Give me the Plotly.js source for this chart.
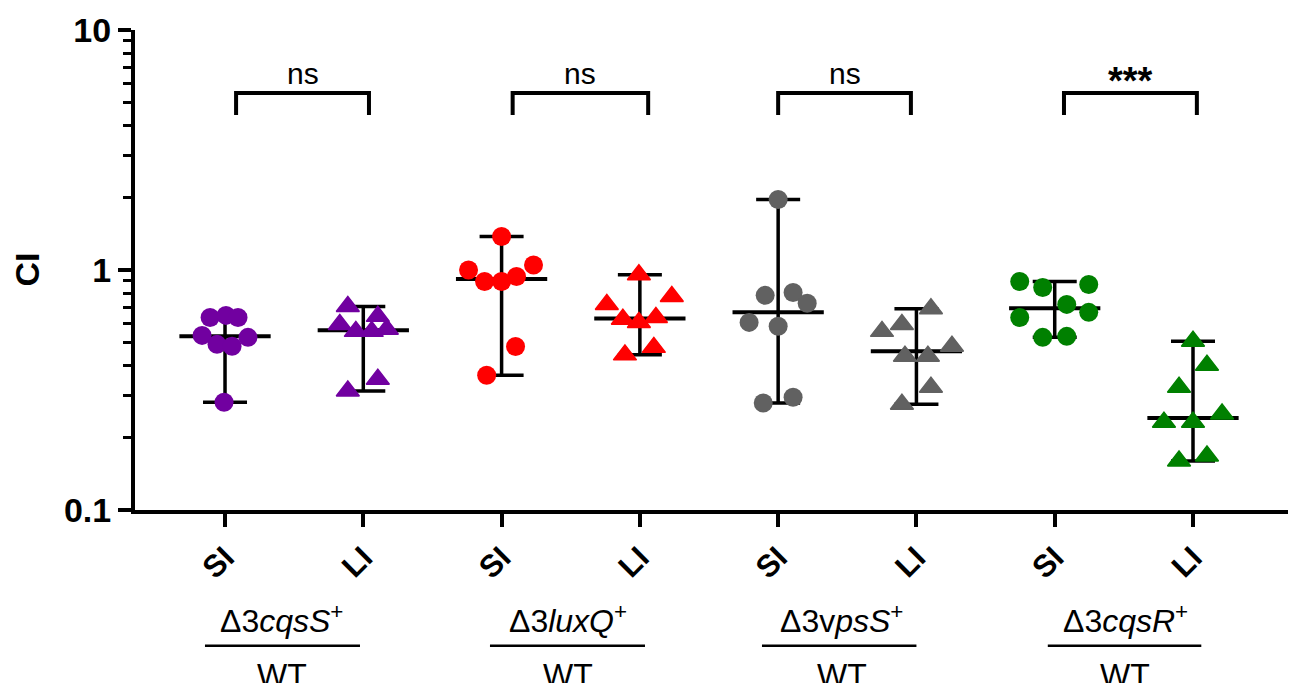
<!DOCTYPE html>
<html>
<head>
<meta charset="utf-8">
<script src="https://cdn.plot.ly/plotly-3.0.1.min.js"></script>
<style>html,body{margin:0;padding:0;background:#fff;}#chart{width:1293px;height:683px;}</style>
</head>
<body>
<div id="chart"></div>
<script>
// ---- data ----
const categories = ['SI', 'LI', 'SI', 'LI', 'SI', 'LI', 'SI', 'LI'];
const groupLabels = ['Δ3<i>cqsS</i><sup>+</sup>', 'Δ3<i>luxQ</i><sup>+</sup>', 'Δ3v<i>psS</i><sup>+</sup>', 'Δ3<i>cqsR</i><sup>+</sup>'];
const groupDenominator = ['WT', 'WT', 'WT', 'WT'];
const significance = ['ns', 'ns', 'ns', '***'];

const cqsS_SI = [0.634, 0.647, 0.634, 0.534, 0.524, 0.49, 0.481, 0.281];
const cqsS_SI_dx = [-0.108, 0.007, 0.094, -0.166, 0.166, -0.058, 0.051, -0.007];
const cqsS_LI = [0.705, 0.593, 0.555, 0.555, 0.641, 0.566, 0.351, 0.313];
const cqsS_LI_dx = [-0.112, -0.170, -0.054, 0.061, 0.105, 0.170, 0.105, -0.112];
const luxQ_SI = [1.38, 1.0, 1.05, 0.896, 0.896, 0.94, 0.48, 0.364];
const luxQ_SI_dx = [0, -0.239, 0.231, -0.123, 0, 0.108, 0.101, -0.108];
const luxQ_LI = [0.955, 0.719, 0.776, 0.623, 0.605, 0.634, 0.443, 0.476];
const luxQ_LI_dx = [-0.007, -0.239, 0.231, -0.123, -0.007, 0.116, -0.108, 0.101];
const vpsS_SI = [1.965, 0.784, 0.806, 0.727, 0.605, 0.583, 0.295, 0.279];
const vpsS_SI_dx = [0, -0.094, 0.108, 0.210, -0.210, 0, 0.108, -0.108];
const vpsS_LI = [0.69, 0.593, 0.555, 0.481, 0.437, 0.437, 0.325, 0.276];
const vpsS_LI_dx = [0.105, -0.105, -0.249, 0.257, -0.083, 0.083, 0.105, -0.105];
const cqsR_SI = [0.896, 0.846, 0.87, 0.719, 0.634, 0.666, 0.524, 0.529];
const cqsR_SI_dx = [-0.253, -0.087, 0.246, 0.087, -0.253, 0.246, -0.087, 0.087];
const cqsR_LI = [0.505, 0.401, 0.325, 0.232, 0.232, 0.251, 0.168, 0.16];
const cqsR_LI_dx = [0, 0.101, -0.101, -0.210, 0, 0.210, 0.101, -0.101];

// ---- styling ----
const FONT = 'Liberation Sans, Arial, sans-serif';
const colors = ['#7100A0', '#FF0000', '#616161', '#008000'];
const series = [
  {v: cqsS_SI, dx: cqsS_SI_dx, c: colors[0], sym: 'circle'},
  {v: cqsS_LI, dx: cqsS_LI_dx, c: colors[0], sym: 'triangle-up'},
  {v: luxQ_SI, dx: luxQ_SI_dx, c: colors[1], sym: 'circle'},
  {v: luxQ_LI, dx: luxQ_LI_dx, c: colors[1], sym: 'triangle-up'},
  {v: vpsS_SI, dx: vpsS_SI_dx, c: colors[2], sym: 'circle'},
  {v: vpsS_LI, dx: vpsS_LI_dx, c: colors[2], sym: 'triangle-up'},
  {v: cqsR_SI, dx: cqsR_SI_dx, c: colors[3], sym: 'circle'},
  {v: cqsR_LI, dx: cqsR_LI_dx, c: colors[3], sym: 'triangle-up'}
];

function median(a) {
  const s = a.slice().sort((p, q) => p - q);
  const n = s.length;
  return n % 2 ? s[(n - 1) / 2] : (s[n / 2 - 1] + s[n / 2]) / 2;
}

const traces = [];
const halfMed = 0.33;
series.forEach((s, i) => {
  const m = median(s.v);
  const lo = Math.min(...s.v), hi = Math.max(...s.v);
  traces.push({
    type: 'scatter', mode: 'lines', x: [i - halfMed, i + halfMed], y: [m, m],
    line: {color: 'black', width: 4}, hoverinfo: 'skip', showlegend: false
  });
  traces.push({
    type: 'scatter', mode: 'markers', x: [i], y: [m],
    marker: {size: 1, color: 'rgba(0,0,0,0)'},
    error_y: {type: 'data', symmetric: false, array: [hi - m], arrayminus: [m - lo],
              color: 'black', thickness: 3.5, width: 22},
    hoverinfo: 'skip', showlegend: false
  });
});
series.forEach((s, i) => {
  const tri = s.sym !== 'circle';
  traces.push({
    type: 'scatter', mode: 'markers',
    x: s.dx.map(d => i + d), y: s.v,
    marker: {symbol: s.sym, size: tri ? 20 : 19, color: s.c, line: {width: tri ? 1.5 : 0, color: s.c}},
    showlegend: false, hoverinfo: 'y'
  });
});

// significance brackets
const bracketLeft = [0.08, 2.08, 4.0, 6.067];
const bracketRight = [1.041, 3.06, 4.96, 7.028];
const bracketTop = 5.46, bracketLeg = 4.42;
bracketLeft.forEach((l, g) => {
  traces.push({
    type: 'scatter', mode: 'lines',
    x: [l, l, bracketRight[g], bracketRight[g]],
    y: [bracketLeg, bracketTop, bracketTop, bracketLeg],
    line: {color: 'black', width: 4}, hoverinfo: 'skip', showlegend: false, cliponaxis: false
  });
});

const annotations = [];
significance.forEach((t, g) => {
  const stars = t !== 'ns';
  annotations.push({
    xref: 'x', yref: 'paper', x: (bracketLeft[g] + bracketRight[g]) / 2,
    y: stars ? 0.846 : 0.871, yanchor: 'bottom', xanchor: 'center', showarrow: false,
    text: t,
    font: {family: FONT, size: stars ? 38 : 30, color: 'black', weight: stars ? 'bold' : 'normal'}
  });
});

const labelCenter = [0.41, 2.48, 4.46, 6.51];
const lineLeft = [-0.145, 1.916, 3.883, 5.95];
const lineRight = [0.976, 3.037, 5.0, 7.06];
const shapes = [];
groupLabels.forEach((t, g) => {
  annotations.push({
    xref: 'x', yref: 'paper', x: labelCenter[g], y: -0.273, yanchor: 'bottom', xanchor: 'center',
    showarrow: false, text: t,
    font: {family: FONT, size: 32, color: 'black'}
  });
  annotations.push({
    xref: 'x', yref: 'paper', x: labelCenter[g], y: -0.302, yanchor: 'top', xanchor: 'center',
    showarrow: false, text: groupDenominator[g],
    font: {family: FONT, size: 32, color: 'black'}
  });
  shapes.push({
    type: 'line', xref: 'x', yref: 'paper', x0: lineLeft[g], x1: lineRight[g], y0: -0.283, y1: -0.283,
    line: {color: 'black', width: 2.5}
  });
});

// y axis title
annotations.push({
  xref: 'paper', yref: 'paper', x: -0.094, y: 0.5, xanchor: 'center', yanchor: 'middle',
  textangle: -90, showarrow: false, text: 'CI',
  font: {family: FONT, size: 34, color: 'black', weight: 'bold'}
});

const minorVals = [0.2, 0.3, 0.4, 0.5, 0.6, 0.7, 0.8, 0.9, 2, 3, 4, 5, 6, 7, 8, 9];

const layout = {
  width: 1293, height: 683,
  margin: {l: 135, r: 5, t: 30, b: 173},
  paper_bgcolor: 'white', plot_bgcolor: 'white',
  showlegend: false,
  xaxis: {
    range: [-0.651, 7.687], tickmode: 'array', tickvals: [0, 1, 2, 3, 4, 5, 6, 7], ticktext: categories,
    tickangle: -45, ticks: 'outside', ticklen: 13, tickwidth: 4, tickcolor: 'black',
    showline: true, linewidth: 4, linecolor: 'black', showgrid: false, zeroline: false,
    tickfont: {family: FONT, size: 31, color: 'black', weight: 'bold'}
  },
  yaxis: {
    type: 'log', range: [-1, 1], tickmode: 'array', tickvals: [0.1, 1, 10], ticktext: ['0.1', '1', '10'],
    ticks: 'outside', ticklen: 13, tickwidth: 4, tickcolor: 'black',
    showline: true, linewidth: 4, linecolor: 'black', showgrid: false, zeroline: false,
    tickfont: {family: FONT, size: 34, color: 'black', weight: 'bold'},
    minor: {tickmode: 'array', tickvals: minorVals, ticks: 'outside', ticklen: 8, tickwidth: 3, tickcolor: 'black', showgrid: false}
  },
  annotations: annotations,
  shapes: shapes
};

Plotly.newPlot('chart', traces, layout, {displayModeBar: false, staticPlot: true});
</script>
</body>
</html>
